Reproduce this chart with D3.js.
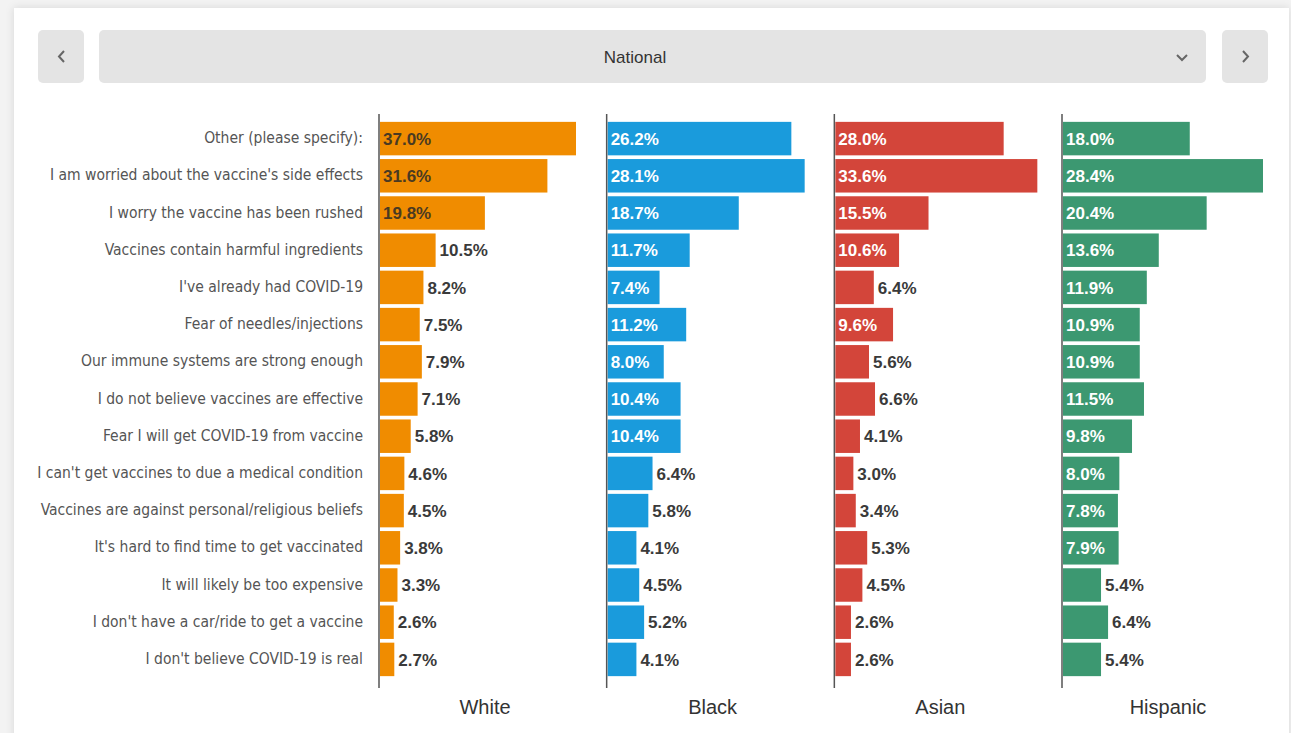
<!DOCTYPE html>
<html>
<head>
<meta charset="utf-8">
<script src="https://cdn.jsdelivr.net/npm/d3@7"></script>
<style>
  body { margin: 0; background: #f3f3f3; }
  svg { display: block; }
</style>
</head>
<body>
<script>
var w = 1291;
var h = 733;

var reasons = [
  "Other (please specify):",
  "I am worried about the vaccine's side effects",
  "I worry the vaccine has been rushed",
  "Vaccines contain harmful ingredients",
  "I've already had COVID-19",
  "Fear of needles/injections",
  "Our immune systems are strong enough",
  "I do not believe vaccines are effective",
  "Fear I will get COVID-19 from vaccine",
  "I can't get vaccines to due a medical condition",
  "Vaccines are against personal/religious beliefs",
  "It's hard to find time to get vaccinated",
  "It will likely be too expensive",
  "I don't have a car/ride to get a vaccine",
  "I don't believe COVID-19 is real"
];

var groups = ["White", "Black", "Asian", "Hispanic"];

var white    = [37.0, 31.6, 19.8, 10.5, 8.2, 7.5, 7.9, 7.1, 5.8, 4.6, 4.5, 3.8, 3.3, 2.6, 2.7];
var black    = [26.2, 28.1, 18.7, 11.7, 7.4, 11.2, 8.0, 10.4, 10.4, 6.4, 5.8, 4.1, 4.5, 5.2, 4.1];
var asian    = [28.0, 33.6, 15.5, 10.6, 6.4, 9.6, 5.6, 6.6, 4.1, 3.0, 3.4, 5.3, 4.5, 2.6, 2.6];
var hispanic = [18.0, 28.4, 20.4, 13.6, 11.9, 10.9, 10.9, 11.5, 9.8, 8.0, 7.8, 7.9, 5.4, 6.4, 5.4];

var seriesValues = [white, black, asian, hispanic];
var colors = ["#f08c00", "#1a9bdc", "#d3453a", "#3c9871"];
var insideText = ["#4a3a22", "#ffffff", "#ffffff", "#ffffff"];
// each panel is scaled to its own maximum
var panelWidths = [196, 197, 202, 200];

var svg = d3.select("body")
            .append("svg")
            .attr("width", w)
            .attr("height", h);

// card shadow
var defs = svg.append("defs");
var f = defs.append("filter").attr("id", "shadow")
            .attr("x", "-5%").attr("y", "-5%").attr("width", "110%").attr("height", "110%");
f.append("feDropShadow").attr("dx", 0).attr("dy", 0)
 .attr("stdDeviation", 4).attr("flood-color", "#000").attr("flood-opacity", 0.12);

svg.append("rect")
   .attr("x", 14).attr("y", 8)
   .attr("width", 1275).attr("height", 760)
   .attr("fill", "#fff")
   .attr("filter", "url(#shadow)");

// top navigation
var nav = svg.append("g");
nav.append("rect").attr("x", 38).attr("y", 30).attr("width", 46).attr("height", 53)
   .attr("rx", 5).attr("fill", "#e4e4e4");
nav.append("rect").attr("x", 99).attr("y", 30).attr("width", 1107).attr("height", 53)
   .attr("rx", 5).attr("fill", "#e4e4e4");
nav.append("rect").attr("x", 1222).attr("y", 30).attr("width", 46).attr("height", 53)
   .attr("rx", 5).attr("fill", "#e4e4e4");

nav.append("path").attr("d", "M64,51 L59,56.5 L64,62")
   .attr("fill", "none").attr("stroke", "#666").attr("stroke-width", 2);
nav.append("path").attr("d", "M1243,51 L1248,56.5 L1243,62")
   .attr("fill", "none").attr("stroke", "#666").attr("stroke-width", 2);
nav.append("path").attr("d", "M1177,55 L1182,60 L1187,55")
   .attr("fill", "none").attr("stroke", "#666").attr("stroke-width", 2);

nav.append("text")
   .attr("x", 635).attr("y", 57)
   .attr("dy", "0.35em")
   .attr("text-anchor", "middle")
   .style("font-family", "'Liberation Sans', Arial, sans-serif")
   .style("font-size", "17px")
   .attr("fill", "#333")
   .text("National");

// scales
var yScale = d3.scaleBand()
               .domain(reasons)
               .range([120, 678])
               .paddingInner(0.1)
               .paddingOuter(0.05);

var panelScale = d3.scalePoint()
                   .domain(groups)
                   .range([379, 1062]);

// category labels
svg.append("g")
   .selectAll("text")
   .data(reasons)
   .enter()
   .append("text")
   .attr("x", 363)
   .attr("y", function(d) { return yScale(d) + yScale.bandwidth() / 2; })
   .attr("dy", "0.3em")
   .attr("text-anchor", "end")
   .style("font-family", "'Liberation Sans Narrow', 'DejaVu Sans Condensed', sans-serif")
   .style("font-size", "15.5px")
   .attr("fill", "#555")
   .text(function(d) { return d; });

// panels
groups.forEach(function(g, gi) {
  var values = seriesValues[gi];
  var x0 = panelScale(g);
  var xScale = d3.scaleLinear()
                 .domain([0, d3.max(values)])
                 .range([0, panelWidths[gi]]);

  var panel = svg.append("g")
                 .attr("transform", "translate(" + (x0 + 1) + ",0)");

  panel.selectAll("rect")
       .data(values)
       .enter()
       .append("rect")
       .attr("x", 0)
       .attr("y", function(d, i) { return yScale(reasons[i]); })
       .attr("width", function(d) { return xScale(d); })
       .attr("height", yScale.bandwidth())
       .attr("fill", colors[gi]);

  panel.selectAll("text.value")
       .data(values)
       .enter()
       .append("text")
       .attr("class", "value")
       .attr("y", function(d, i) { return yScale(reasons[i]) + yScale.bandwidth() / 2; })
       .attr("dy", "0.36em")
       .style("font-family", "'Liberation Sans', Arial, sans-serif")
       .style("font-weight", "bold")
       .style("font-size", "17px")
       .text(function(d) { return d.toFixed(1) + "%"; })
       .each(function(d) {
         var tw = this.getComputedTextLength();
         var bw = xScale(d);
         var inside = bw > tw + 10;
         d3.select(this)
           .attr("x", inside ? 3 : bw + 4)
           .attr("fill", inside ? insideText[gi] : "#3a3a3a");
       });

  // axis line
  svg.append("line")
     .attr("x1", x0).attr("x2", x0)
     .attr("y1", 114).attr("y2", 688)
     .attr("stroke", "#555")
     .attr("stroke-width", 1.5);

  // group title
  svg.append("text")
     .attr("x", x0 + 106)
     .attr("y", 707)
     .attr("dy", "0.35em")
     .attr("text-anchor", "middle")
     .style("font-family", "'Liberation Sans', Arial, sans-serif")
     .style("font-size", "20px")
     .attr("fill", "#333")
     .text(g);
});
</script>
</body>
</html>
